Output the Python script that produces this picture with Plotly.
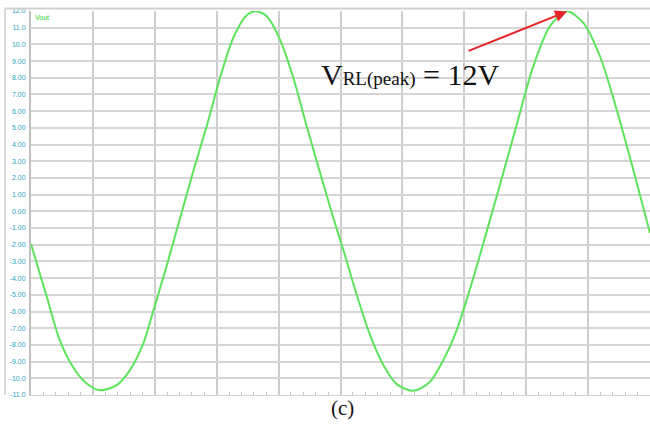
import plotly.graph_objects as go

t_div = [0.0, 0.092, 0.254, 0.468, 0.683, 0.900, 1.115, 1.384, 1.599, 1.814, 1.976,
         2.137, 2.299, 2.435, 2.622, 2.838, 3.053, 3.268, 3.485, 3.635, 3.808, 4.023,
         4.238, 4.454, 4.669, 4.884, 5.045, 5.262, 5.477, 5.692, 5.908, 6.176, 6.446,
         6.661, 6.877, 7.038, 7.200, 7.362, 7.577, 7.847, 8.115, 8.385, 8.654, 8.923,
         9.192, 9.462, 9.730, 10.0]
v_out = [-1.95, -3.1, -5.1, -7.75, -9.35, -10.31, -10.71, -10.41, -9.51, -7.91, -5.96,
         -3.96, -1.86, -0.05, 2.4, 5.1, 7.99, 10.4, 11.75, 11.99, 11.69, 10.29,
         8.0, 5.1, 2.33, -0.4, -2.3, -5.0, -7.4, -9.2, -10.35, -10.75, -10.21,
         -8.91, -7.11, -5.3, -3.3, -1.2, 1.6, 5.2, 8.7, 11.09, 11.99, 11.29,
         9.29, 6.09, 2.49, -1.3]

y_tick_vals = list(range(12, -12, -1))
y_tick_text = ["12.0", "11.0", "10.0", "9.00", "8.00", "7.00", "6.00", "5.00", "4.00",
               "3.00", "2.00", "1.00", "0.00", "-1.00", "-2.00", "-3.00", "-4.00",
               "-5.00", "-6.00", "-7.00", "-8.00", "-9.00", "-10.0", "-11.0"]

peak_x = 8.66
peak_y = 11.97

fig = go.Figure()
fig.add_trace(go.Scatter(
    x=t_div, y=v_out, mode="lines",
    line=dict(color="#5ee35e", width=2, shape="spline", smoothing=0.8),
    hoverinfo="skip", showlegend=False,
))

fig.update_layout(
    width=650, height=426,
    margin=dict(l=31, r=0, t=11, b=31, autoexpand=False),
    paper_bgcolor="white", plot_bgcolor="white",
    xaxis=dict(range=[0, 10], dtick=1, tick0=0, showticklabels=False, automargin=False,
               showgrid=True, gridcolor="#cdcdcd", gridwidth=2,
               zeroline=False, showline=True, linecolor="#d0d0d0", linewidth=1,
               ticks="", minor=dict(dtick=0.2, ticks="inside", ticklen=3,
                                     tickcolor="#c8c8c8", showgrid=False)),
    yaxis=dict(range=[-11, 12], tickvals=y_tick_vals, ticktext=y_tick_text,
               automargin=False,
               showgrid=True, gridcolor="#d6d6d6", gridwidth=1.5,
               zeroline=False, showline=True, linecolor="#c0c0c0", linewidth=2,
               ticks="", ticklabelstandoff=2,
               tickfont=dict(family="Liberation Sans", size=7, color="#2a9fc0")),
)

# outer faint frame of the screenshot
fig.add_shape(type="line", xref="paper", yref="paper", x0=-0.042, x1=1.0,
              y0=1.0065, y1=1.0065, line=dict(color="#cfcfcf", width=2))
fig.add_shape(type="line", xref="paper", yref="paper", x0=-0.042, x1=-0.042,
              y0=0.0, y1=1.0065, line=dict(color="#d8d8d8", width=2))

# trace label
fig.add_annotation(xref="paper", yref="paper", x=0.004, y=0.997, xanchor="left",
                   yanchor="top", text="Vout", showarrow=False,
                   font=dict(family="Liberation Sans", size=7, color="#33d633"))

# peak annotation text
fig.add_annotation(xref="paper", yref="paper", x=0.465, y=0.835, xanchor="left",
                   yanchor="middle", showarrow=False,
                   text="V<span style='font-size:19px'>RL(peak)</span> = 12V",
                   font=dict(family="Liberation Serif", size=30, color="#111111"))

# arrow pointing at the peak
fig.add_annotation(x=peak_x, y=peak_y, xref="x", yref="y", text="",
                   showarrow=True, arrowhead=2, arrowsize=1.2, arrowwidth=2,
                   arrowcolor="#e8262a", ax=-100, ay=40)

# caption
fig.add_annotation(xref="paper", yref="paper", x=0.504, y=-0.034, xanchor="center",
                   yanchor="middle", text="(c)", showarrow=False,
                   font=dict(family="Liberation Serif", size=21, color="#111111"))

fig.write_html(
    "out.html",
    config={"displayModeBar": False},
    post_script="document.body.style.margin='0';document.body.style.overflow='hidden';",
)
